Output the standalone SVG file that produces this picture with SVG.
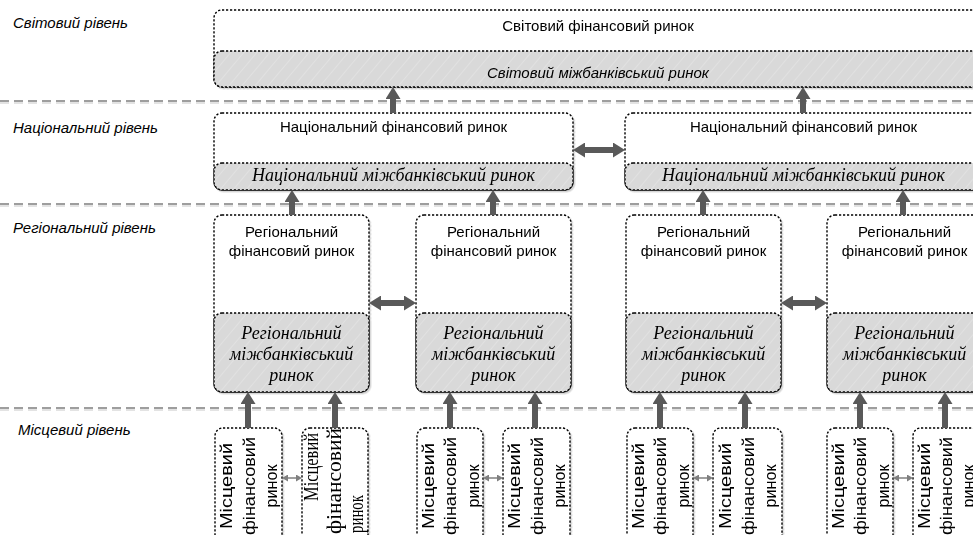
<svg xmlns="http://www.w3.org/2000/svg" width="973" height="535" viewBox="0 0 973 535">
<style>
.box{fill:#fff;stroke:#000;stroke-width:1.4;stroke-dasharray:2.2 1.8}
.gbox{fill:url(#hatch);stroke:#000;stroke-width:1.4;stroke-dasharray:2.2 1.8}
.sep{stroke:#7f7f7f;stroke-width:1.5;stroke-dasharray:9 5;fill:none}
.sep2{stroke:#dadada;stroke-width:1.5;stroke-dasharray:9 5;fill:none}
.arr{stroke:#595959;stroke-width:6;fill:none}
.sarr{stroke:#7f7f7f;stroke-width:1.5;fill:none}
.lvl{font-family:"Liberation Sans",Arial,sans-serif;font-style:italic;font-size:15px;fill:#000}
.t{font-family:"Liberation Sans",Arial,sans-serif;font-size:15px;text-anchor:middle;fill:#000}
.ti{font-family:"Liberation Sans",Arial,sans-serif;font-style:italic;font-size:15px;text-anchor:middle;fill:#000}
.ts{font-family:"Liberation Serif","Times New Roman",serif;font-style:italic;font-size:18px;text-anchor:middle;fill:#000}
.lt{font-family:"Liberation Sans",Arial,sans-serif;font-size:17px;text-anchor:middle;fill:#000}
.lts{font-family:"Liberation Serif","Times New Roman",serif;font-size:20px;text-anchor:middle;fill:#000}
</style>
<defs>
<pattern id="hatch" patternUnits="userSpaceOnUse" width="10" height="10" patternTransform="rotate(40)">
<rect width="10" height="10" fill="#d9d9d9"/>
<line x1="0" y1="0" x2="0" y2="10" stroke="#e4e4e4" stroke-width="1.5"/>
</pattern>
<filter id="sh" x="-5%" y="-5%" width="115%" height="115%">
<feDropShadow dx="1.5" dy="1.5" stdDeviation="0.6" flood-color="#000" flood-opacity="0.18"/>
</filter>
<marker id="ah" markerUnits="userSpaceOnUse" markerWidth="12" markerHeight="15" viewBox="0 0 12 15" refX="0" refY="7.5" orient="auto-start-reverse">
<path d="M0,0 L12,7.5 L0,15 z" fill="#595959"/>
</marker>
<marker id="sa" markerUnits="userSpaceOnUse" markerWidth="6" markerHeight="7" viewBox="0 0 6 7" refX="0" refY="3.5" orient="auto-start-reverse">
<path d="M0,0 L6,3.5 L0,7 z" fill="#7f7f7f"/>
</marker>
</defs>

<g id="separators">
<line class="sep2" x1="0" y1="103" x2="973" y2="103"/>
<line class="sep" x1="0" y1="101" x2="973" y2="101"/>
<line class="sep2" x1="0" y1="206" x2="973" y2="206"/>
<line class="sep" x1="0" y1="204" x2="973" y2="204"/>
<line class="sep2" x1="0" y1="410" x2="973" y2="410"/>
<line class="sep" x1="0" y1="408" x2="973" y2="408"/>
</g>

<g id="levels">
<text class="lvl" x="13" y="28">Світовий рівень</text>
<text class="lvl" x="13" y="133">Національний рівень</text>
<text class="lvl" x="13" y="233">Регіональний рівень</text>
<text class="lvl" x="18" y="435">Місцевий рівень</text>
</g>

<g id="world" filter="url(#sh)">
<rect class="box" x="214" y="10" width="768" height="77" rx="8"/>
<rect class="gbox" x="214" y="51" width="768" height="36" rx="8"/>
<text class="t" x="598" y="31">Світовий фінансовий ринок</text>
<text class="ti" x="598" y="78">Світовий міжбанківський ринок</text>
</g>

<g id="national1" filter="url(#sh)">
<rect class="box" x="214" y="113" width="359" height="77" rx="8"/>
<rect class="gbox" x="214" y="163" width="359" height="27" rx="8"/>
<text class="t" x="393.5" y="132">Національний фінансовий ринок</text>
<text class="ts" x="393.5" y="181">Національний міжбанківський ринок</text>
</g>
<g id="national2" filter="url(#sh)">
<rect class="box" x="625" y="113" width="357" height="77" rx="8"/>
<rect class="gbox" x="625" y="163" width="357" height="27" rx="8"/>
<text class="t" x="803.5" y="132">Національний фінансовий ринок</text>
<text class="ts" x="803.5" y="181">Національний міжбанківський ринок</text>
</g>

<g id="regional1" filter="url(#sh)">
<rect class="box" x="214" y="215" width="155" height="177" rx="8"/>
<rect class="gbox" x="214" y="313" width="155" height="79" rx="8"/>
<text class="t" x="291.5" y="237">Регіональний</text>
<text class="t" x="291.5" y="256">фінансовий ринок</text>
<text class="ts" x="291.5" y="339">Регіональний</text>
<text class="ts" x="291.5" y="360">міжбанківський</text>
<text class="ts" x="291.5" y="381">ринок</text>
</g>
<g id="regional2" filter="url(#sh)">
<rect class="box" x="416" y="215" width="155" height="177" rx="8"/>
<rect class="gbox" x="416" y="313" width="155" height="79" rx="8"/>
<text class="t" x="493.5" y="237">Регіональний</text>
<text class="t" x="493.5" y="256">фінансовий ринок</text>
<text class="ts" x="493.5" y="339">Регіональний</text>
<text class="ts" x="493.5" y="360">міжбанківський</text>
<text class="ts" x="493.5" y="381">ринок</text>
</g>
<g id="regional3" filter="url(#sh)">
<rect class="box" x="626" y="215" width="155" height="177" rx="8"/>
<rect class="gbox" x="626" y="313" width="155" height="79" rx="8"/>
<text class="t" x="703.5" y="237">Регіональний</text>
<text class="t" x="703.5" y="256">фінансовий ринок</text>
<text class="ts" x="703.5" y="339">Регіональний</text>
<text class="ts" x="703.5" y="360">міжбанківський</text>
<text class="ts" x="703.5" y="381">ринок</text>
</g>
<g id="regional4" filter="url(#sh)">
<rect class="box" x="827" y="215" width="155" height="177" rx="8"/>
<rect class="gbox" x="827" y="313" width="155" height="79" rx="8"/>
<text class="t" x="904.5" y="237">Регіональний</text>
<text class="t" x="904.5" y="256">фінансовий ринок</text>
<text class="ts" x="904.5" y="339">Регіональний</text>
<text class="ts" x="904.5" y="360">міжбанківський</text>
<text class="ts" x="904.5" y="381">ринок</text>
</g>

<g id="local1" filter="url(#sh)">
<rect class="box" x="215" y="428" width="67" height="130" rx="8"/>
<text class="lt" transform="translate(232,486) rotate(-90)" textLength="86" lengthAdjust="spacingAndGlyphs">Місцевий</text>
<text class="lt" transform="translate(254.5,486) rotate(-90)" textLength="98" lengthAdjust="spacingAndGlyphs">фінансовий</text>
<text class="lt" transform="translate(277,486) rotate(-90)" textLength="43" lengthAdjust="spacingAndGlyphs">ринок</text>
</g>
<g id="local2" filter="url(#sh)">
<rect class="box" x="302" y="428" width="66" height="130" rx="8"/>
<text class="lts" transform="translate(318,467) rotate(-90)" textLength="68" lengthAdjust="spacingAndGlyphs">Місцевий</text>
<text class="lts" transform="translate(341,481) rotate(-90)" textLength="106" lengthAdjust="spacingAndGlyphs">фінансовий</text>
<text class="lts" transform="translate(363,514) rotate(-90)" textLength="38" lengthAdjust="spacingAndGlyphs">ринок</text>
</g>
<g id="local3" filter="url(#sh)">
<rect class="box" x="417" y="428" width="66" height="130" rx="8"/>
<text class="lt" transform="translate(433.5,486) rotate(-90)" textLength="86" lengthAdjust="spacingAndGlyphs">Місцевий</text>
<text class="lt" transform="translate(456,486) rotate(-90)" textLength="98" lengthAdjust="spacingAndGlyphs">фінансовий</text>
<text class="lt" transform="translate(478.5,486) rotate(-90)" textLength="43" lengthAdjust="spacingAndGlyphs">ринок</text>
</g>
<g id="local4" filter="url(#sh)">
<rect class="box" x="503" y="428" width="67" height="130" rx="8"/>
<text class="lt" transform="translate(520,486) rotate(-90)" textLength="86" lengthAdjust="spacingAndGlyphs">Місцевий</text>
<text class="lt" transform="translate(542.5,486) rotate(-90)" textLength="98" lengthAdjust="spacingAndGlyphs">фінансовий</text>
<text class="lt" transform="translate(565,486) rotate(-90)" textLength="43" lengthAdjust="spacingAndGlyphs">ринок</text>
</g>
<g id="local5" filter="url(#sh)">
<rect class="box" x="627" y="428" width="66" height="130" rx="8"/>
<text class="lt" transform="translate(643.5,486) rotate(-90)" textLength="86" lengthAdjust="spacingAndGlyphs">Місцевий</text>
<text class="lt" transform="translate(666,486) rotate(-90)" textLength="98" lengthAdjust="spacingAndGlyphs">фінансовий</text>
<text class="lt" transform="translate(688.5,486) rotate(-90)" textLength="43" lengthAdjust="spacingAndGlyphs">ринок</text>
</g>
<g id="local6" filter="url(#sh)">
<rect class="box" x="713" y="428" width="69" height="130" rx="8"/>
<text class="lt" transform="translate(731,486) rotate(-90)" textLength="86" lengthAdjust="spacingAndGlyphs">Місцевий</text>
<text class="lt" transform="translate(753.5,486) rotate(-90)" textLength="98" lengthAdjust="spacingAndGlyphs">фінансовий</text>
<text class="lt" transform="translate(776,486) rotate(-90)" textLength="43" lengthAdjust="spacingAndGlyphs">ринок</text>
</g>
<g id="local7" filter="url(#sh)">
<rect class="box" x="827" y="428" width="66" height="130" rx="8"/>
<text class="lt" transform="translate(843.5,486) rotate(-90)" textLength="86" lengthAdjust="spacingAndGlyphs">Місцевий</text>
<text class="lt" transform="translate(866,486) rotate(-90)" textLength="98" lengthAdjust="spacingAndGlyphs">фінансовий</text>
<text class="lt" transform="translate(888.5,486) rotate(-90)" textLength="43" lengthAdjust="spacingAndGlyphs">ринок</text>
</g>
<g id="local8" filter="url(#sh)">
<rect class="box" x="913" y="428" width="67" height="130" rx="8"/>
<text class="lt" transform="translate(929.5,486) rotate(-90)" textLength="86" lengthAdjust="spacingAndGlyphs">Місцевий</text>
<text class="lt" transform="translate(952,486) rotate(-90)" textLength="98" lengthAdjust="spacingAndGlyphs">фінансовий</text>
<text class="lt" transform="translate(973.5,486) rotate(-90)" textLength="43" lengthAdjust="spacingAndGlyphs">ринок</text>
</g>

<g id="connectors">
<line class="arr" x1="393" y1="113" x2="393" y2="99" marker-end="url(#ah)"/>
<line class="arr" x1="803" y1="113" x2="803" y2="99" marker-end="url(#ah)"/>
<line class="arr" x1="292" y1="215" x2="292" y2="202" marker-end="url(#ah)"/>
<line class="arr" x1="493" y1="215" x2="493" y2="202" marker-end="url(#ah)"/>
<line class="arr" x1="703" y1="215" x2="703" y2="202" marker-end="url(#ah)"/>
<line class="arr" x1="903" y1="215" x2="903" y2="202" marker-end="url(#ah)"/>
<line class="arr" x1="248" y1="428" x2="248" y2="404" marker-end="url(#ah)"/>
<line class="arr" x1="335" y1="428" x2="335" y2="404" marker-end="url(#ah)"/>
<line class="arr" x1="450" y1="428" x2="450" y2="404" marker-end="url(#ah)"/>
<line class="arr" x1="535" y1="428" x2="535" y2="404" marker-end="url(#ah)"/>
<line class="arr" x1="660" y1="428" x2="660" y2="404" marker-end="url(#ah)"/>
<line class="arr" x1="745" y1="428" x2="745" y2="404" marker-end="url(#ah)"/>
<line class="arr" x1="860" y1="428" x2="860" y2="404" marker-end="url(#ah)"/>
<line class="arr" x1="945" y1="428" x2="945" y2="404" marker-end="url(#ah)"/>
<line class="arr" x1="585" y1="150" x2="613" y2="150" marker-start="url(#ah)" marker-end="url(#ah)"/>
<line class="arr" x1="381" y1="303" x2="404" y2="303" marker-start="url(#ah)" marker-end="url(#ah)"/>
<line class="arr" x1="793" y1="303" x2="815" y2="303" marker-start="url(#ah)" marker-end="url(#ah)"/>
<line class="sarr" x1="288" y1="478" x2="296" y2="478" marker-start="url(#sa)" marker-end="url(#sa)"/>
<line class="sarr" x1="489" y1="478" x2="497" y2="478" marker-start="url(#sa)" marker-end="url(#sa)"/>
<line class="sarr" x1="699" y1="478" x2="707" y2="478" marker-start="url(#sa)" marker-end="url(#sa)"/>
<line class="sarr" x1="899" y1="478" x2="907" y2="478" marker-start="url(#sa)" marker-end="url(#sa)"/>
</g>
</svg>
